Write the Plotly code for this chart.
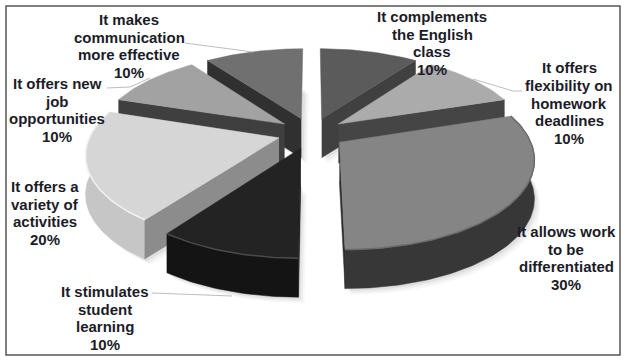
import math
import plotly.graph_objects as go

# ---- data (clockwise from 12 o'clock) ----
labels = [
    "It complements<br>the English<br>class",
    "It offers<br>flexibility on<br>homework<br>deadlines",
    "It allows work<br>to be<br>differentiated",
    "It stimulates<br>student<br>learning",
    "It offers a<br>variety of<br>activities",
    "It offers new<br>job<br>opportunities",
    "It makes<br>communication<br>more effective",
]
shares = [10, 10, 30, 10, 20, 10, 10]
top_colors = ["#5b5b5b", "#ababab", "#858585", "#232323", "#d6d6d6", "#a2a2a2", "#707070"]
arc_colors = ["#3a3a3a", "#444444", "#373737", "#141414", "#c6c6c6", "#3f3f3f", "#303030"]
cut_colors = ["#404040", "#454545", "#303030", "#181818", "#8c8c8c", "#3f3f3f", "#303030"]

# ---- layout helpers ----
label_x = [432, 569, 566, 105, 45, 57, 129]
label_y = [43, 103, 258, 318, 213, 110, 46]
leaders = [
    ([473, 513, 522], [79, 91, 91]),
    ([152, 232], [293, 296]),
    ([107, 130, 150], [88, 87, 78]),
    ([185, 253], [43, 52]),
]
CX, CY, SX, SY, F, EXPLODE, DEPTH = 311.5, 133, 188, 86, 6.0, 0.18, 39
LINE_PITCH = 17.6


def project(X, Y):
    k = 1 + Y / F
    return CX + SX * X / k, CY - SY * Y / k


total = sum(shares)
fig = go.Figure()


def poly(xs, ys, color):
    fig.add_trace(go.Scatter(
        x=xs, y=ys, mode="lines", fill="toself", fillcolor=color,
        line=dict(color=color, width=0.5),
        hoverinfo="skip", showlegend=False))


slices = []
acc = 0
for v in shares:
    a0 = acc / total * 2 * math.pi
    acc += v
    a1 = acc / total * 2 * math.pi
    mid = (a0 + a1) / 2
    ox, oy = EXPLODE * math.sin(mid), EXPLODE * math.cos(mid)
    n = max(8, v * 3)
    arc = [project(ox + math.sin(a0 + (a1 - a0) * i / n), oy + math.cos(a0 + (a1 - a0) * i / n))
           for i in range(n + 1)]
    slices.append((project(ox, oy), arc))

# soft shadows first
for off, alpha in ((10, 0.03), (7, 0.04), (4, 0.05)):
    for apex, arc in slices:
        pts = [apex] + arc
        xs = [p[0] + off * 0.6 for p in pts] + [pts[0][0] + off * 0.6]
        ys = [p[1] + DEPTH + off * 0.6 for p in pts] + [pts[0][1] + DEPTH + off * 0.6]
        fig.add_trace(go.Scatter(x=xs, y=ys, mode="lines", fill="toself",
                                 fillcolor=f"rgba(0,0,0,{alpha})", line=dict(width=0),
                                 hoverinfo="skip", showlegend=False))

# which walls are seen: slice -> start cut / end cut / arc
show_start = [False, False, False, True, True, True, True]
show_end = [True, True, True, False, False, False, False]
show_arc = [False, False, True, True, True, False, False]
order = [0, 6, 1, 5, 2, 4, 3]

for i in order:
    apex, arc = slices[i]
    if show_arc[i]:
        xs = [p[0] for p in arc] + [p[0] for p in reversed(arc)]
        ys = [p[1] for p in arc] + [p[1] + DEPTH for p in reversed(arc)]
        poly(xs, ys, arc_colors[i])
    for show, edge in ((show_start[i], arc[0]), (show_end[i], arc[-1])):
        if show:
            poly([apex[0], edge[0], edge[0], apex[0]],
                 [apex[1], edge[1], edge[1] + DEPTH, apex[1] + DEPTH], cut_colors[i])
    pts = [apex] + arc + [apex]
    poly([p[0] for p in pts], [p[1] for p in pts], top_colors[i])
    if show_arc[i]:
        rim = {2: "#6c6c6c", 3: "#4a4a4a", 4: "#f2f2f2"}[i]
        fig.add_trace(go.Scatter(x=[p[0] for p in arc], y=[p[1] for p in arc], mode="lines",
                                 line=dict(color=rim, width=1.5), hoverinfo="skip", showlegend=False))

for lx, ly in leaders:
    fig.add_trace(go.Scatter(x=lx, y=ly, mode="lines", line=dict(color="#bdbdbd", width=1),
                             hoverinfo="skip", showlegend=False))

for text, v, x, y in zip(labels, shares, label_x, label_y):
    rows = text.split("<br>") + [f"{v}%"]
    for k, row in enumerate(rows):
        fig.add_annotation(x=x, y=y + (k - (len(rows) - 1) / 2) * LINE_PITCH, xref="x", yref="y",
                           text=row, showarrow=False, align="center",
                           xanchor="center", yanchor="middle",
                           font=dict(family="Liberation Sans", size=15, color="#1c1c28", weight="bold"))

fig.add_shape(type="rect", x0=6, y0=6, x1=620, y1=355, xref="x", yref="y",
              line=dict(color="#555555", width=1.5), layer="above")

fig.update_layout(
    width=626, height=362, margin=dict(l=0, r=0, t=0, b=0),
    paper_bgcolor="white", plot_bgcolor="white", showlegend=False,
    xaxis=dict(range=[0, 626], visible=False, fixedrange=True),
    yaxis=dict(range=[362, 0], visible=False, fixedrange=True),
)
fig.write_html("out.html", config={"displayModeBar": False},
               post_script="document.body.style.margin='0';document.documentElement.style.overflow='hidden';")
